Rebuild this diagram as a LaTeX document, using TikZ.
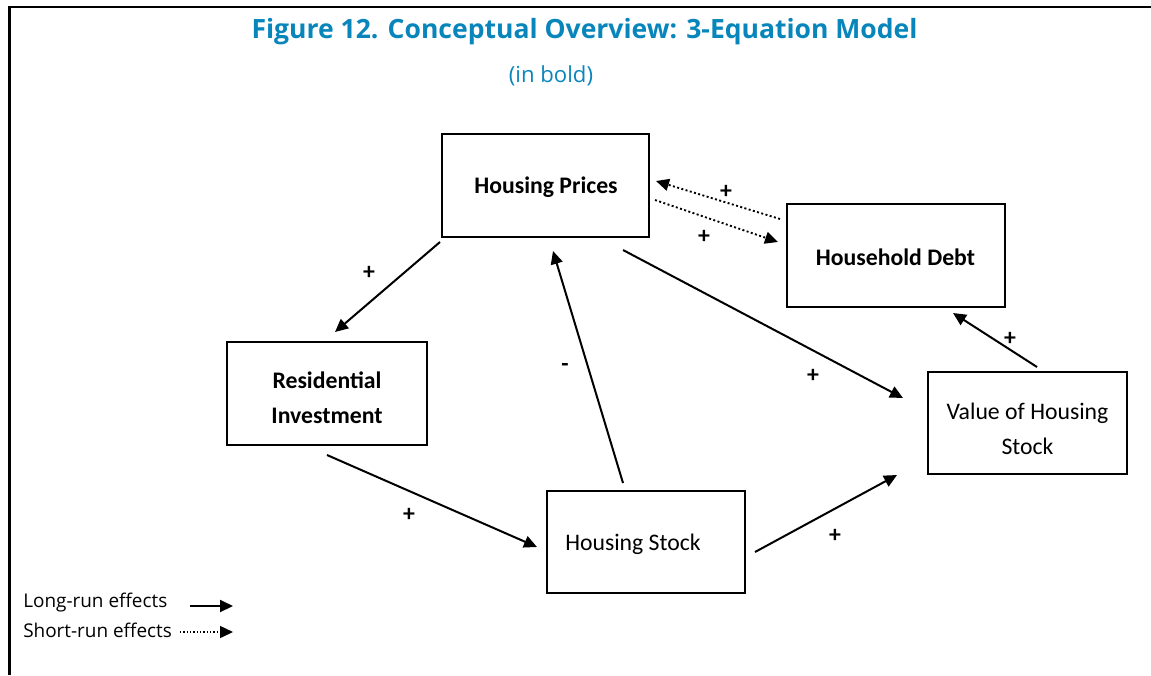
\documentclass[tikz,border=0pt]{standalone}
\usepackage{fontspec}
\setmainfont{Carlito}
\newfontfamily\osans{Open Sans}
\usetikzlibrary{arrows.meta}
\definecolor{titleblue}{RGB}{8,134,187}
\begin{document}
\begin{tikzpicture}[x=0.75pt,y=-0.75pt,
  box/.style 2 args={draw, line width=1.1pt, inner sep=0pt,
    minimum width={#1*0.75pt}, minimum height={#2*0.75pt}},
  boxtext/.style={inner sep=0pt, align=center,
    font=\fontsize{17.8pt}{26.25pt}\selectfont},
  sign/.style={inner sep=0pt, font=\fontsize{17.8pt}{20pt}\selectfont\bfseries},
  legendtext/.style={inner sep=0pt, anchor=west,
    font=\osans\fontsize{14.2pt}{18pt}\selectfont},
  longarr/.style={line width=1.5pt, -{Triangle[length=9.75pt,width=9pt]}},
  shortarr/.style={line width=1.4pt, dash pattern=on 1.5pt off 1.8pt,
    -{Triangle[length=9.75pt,width=9pt]}}]
\useasboundingbox (0,0) rectangle (1151,675);
% frame
\draw[line width=1.8pt] (9.3,675) -- (9.3,6.8) -- (1151,6.8);
% title
\node[inner sep=0pt, anchor=base, text=titleblue,
  font=\osans\bfseries\fontsize{19.9pt}{24pt}\selectfont] (title) at (584.5,38)
  {Figure 12. Conceptual Overview: 3-Equation Model};
\node[inner sep=0pt, anchor=base, text=titleblue,
  font=\osans\fontsize{16.6pt}{20pt}\selectfont] (subtitle) at (551,82) {(in bold)};
% boxes
\node[box={207}{103}] (hp) at (545.5,185.5) {};
\node[box={218}{103}] (hd) at (896,255.5) {};
\node[box={200}{103}] (ri) at (327,393.5) {};
\node[box={199}{102}] (vhs) at (1027.5,423) {};
\node[box={198}{102}] (hs) at (646,542) {};
\node[boxtext, font=\fontsize{17.8pt}{26.25pt}\selectfont\bfseries] (hpt) at (546,187) {Housing Prices};
\node[boxtext, font=\fontsize{17.8pt}{26.25pt}\selectfont\bfseries] (hdt) at (895.5,257) {Household Debt};
\node[boxtext, font=\fontsize{17.8pt}{26.25pt}\selectfont\bfseries] (rit) at (327,397.5) {Residential\\Investment};
\node[boxtext] (vhst) at (1027.5,428.5) {Value of Housing\\Stock};
\node[boxtext] (hst) at (633,544) {Housing Stock};
% connector end points
\coordinate (a1) at (440,242); \coordinate (a2) at (335,332);
\coordinate (b1) at (623,483); \coordinate (b2) at (553,251);
\coordinate (c1) at (623,250); \coordinate (c2) at (903,398);
\coordinate (d1) at (655,200); \coordinate (d2) at (778,242);
\coordinate (e1) at (780,219); \coordinate (e2) at (656,181);
\coordinate (f1) at (1037,367); \coordinate (f2) at (953,313);
\coordinate (g1) at (755,552); \coordinate (g2) at (897,475);
\coordinate (h1) at (327,455); \coordinate (h2) at (537,547);
% connectors
\draw[longarr] (a1) -- (a2);
\draw[longarr] (b1) -- (b2);
\draw[longarr] (c1) -- (c2);
\draw[shortarr] (d1) -- (d2);
\draw[shortarr] (e1) -- (e2);
\draw[longarr] (f1) -- (f2);
\draw[longarr] (g1) -- (g2);
\draw[longarr] (h1) -- (h2);
% signs
\node[sign] (sa) at (369,273) {+};
\node[sign] (sb) at (565,367) {-};
\node[sign] (sc) at (813,376) {+};
\node[sign] (sd) at (704,237) {+};
\node[sign] (se) at (726,192) {+};
\node[sign] (sf) at (1010,339) {+};
\node[sign] (sg) at (835,536) {+};
\node[sign] (sh) at (409,515) {+};
% legend
\node[legendtext] (l1) at (23,603) {Long-run effects};
\node[legendtext] (l2) at (23,630) {Short-run effects};
\coordinate (l1a) at (190,606); \coordinate (l1b) at (233,606);
\coordinate (l2a) at (180,632); \coordinate (l2b) at (233,632);
\draw[longarr] (l1a) -- (l1b);
\draw[shortarr, line width=1.1pt, dash pattern=on 1.1pt off 1.4pt] (l2a) -- (l2b);
\end{tikzpicture}
\end{document}
